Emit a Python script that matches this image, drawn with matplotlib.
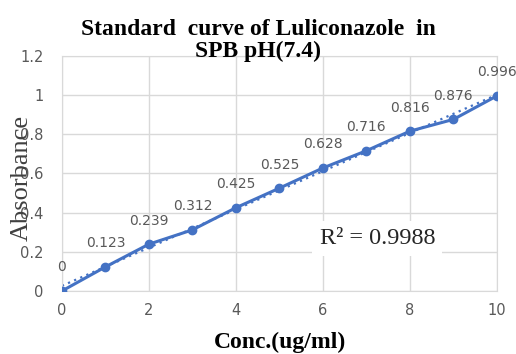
import numpy as np
import matplotlib
matplotlib.use("Agg")
import matplotlib.pyplot as plt

# Calibration data: concentration (ug/ml) vs absorbance
conc = [0, 1, 2, 3, 4, 5, 6, 7, 8, 9, 10]
absorbance = [0, 0.123, 0.239, 0.312, 0.425, 0.525, 0.628, 0.716, 0.816, 0.876, 0.996]
x_ticks = [0, 2, 4, 6, 8, 10]
y_ticks = [0, 0.2, 0.4, 0.6, 0.8, 1, 1.2]
y_tick_labels = ["0", "0.2", "0.4", "0.6", "0.8", "1", "1.2"]
r2_text = "R² = 0.9988"

blue = "#4472C4"
gray = "#595959"
serif = ["Liberation Serif", "DejaVu Serif"]
sans = ["DejaVu Sans"]

fig = plt.figure(figsize=(5.16, 3.54), dpi=100)
ax = fig.add_axes([0.120, 0.178, 0.843, 0.664])

ax.plot(conc, absorbance, color=blue, lw=2.2, marker="o", ms=6, zorder=3)

# linear trendline
coef = np.polyfit(conc, absorbance, 1)
xs = np.array([conc[0], conc[-1]])
ax.plot(xs, np.polyval(coef, xs), color=blue, lw=1.6, ls=(0, (1, 2)), zorder=2)

for xv, yv in zip(conc, absorbance):
    lbl = "0" if yv == 0 else f"{yv:.3f}"
    ax.annotate(lbl, (xv, yv), xytext=(0, 17), textcoords="offset points",
                ha="center", va="center", fontsize=10, color=gray,
                family=sans, zorder=4, annotation_clip=False)

ax.set_xlim(0, 10)
ax.set_ylim(0, 1.2)
ax.set_xticks(x_ticks)
ax.set_yticks(y_ticks)
ax.set_yticklabels(y_tick_labels)
ax.grid(True, color="#D9D9D9", lw=1.0)
ax.set_axisbelow(True)
for s in ax.spines.values():
    s.set_color("#D9D9D9")
ax.tick_params(length=0, labelsize=10.5, labelcolor=gray)
ax.tick_params(axis="x", pad=9)
ax.tick_params(axis="y", pad=13)
for t in ax.get_xticklabels() + ax.get_yticklabels():
    t.set_family(sans)

ax.text(7.25, 0.27, r2_text, ha="center", va="center", fontsize=17.5,
        family=serif, color="#262626", zorder=5,
        bbox=dict(facecolor="white", edgecolor="none", pad=5))

fig.text(0.5, 0.918, "Standard  curve of Luliconazole  in", ha="center",
         va="center", fontsize=17, fontweight="bold", family=serif)
fig.text(0.5, 0.856, "SPB pH(7.4)", ha="center", va="center",
         fontsize=17, fontweight="bold", family=serif)

fig.text(0.043, 0.497, "Absorbance", rotation=90, ha="center", va="center",
         fontsize=19, family=serif, color="#404040")
fig.text(0.543, 0.032, "Conc.(ug/ml)", ha="center", va="center",
         fontsize=17, fontweight="bold", family=serif)

fig.savefig("out.png", dpi=100)
